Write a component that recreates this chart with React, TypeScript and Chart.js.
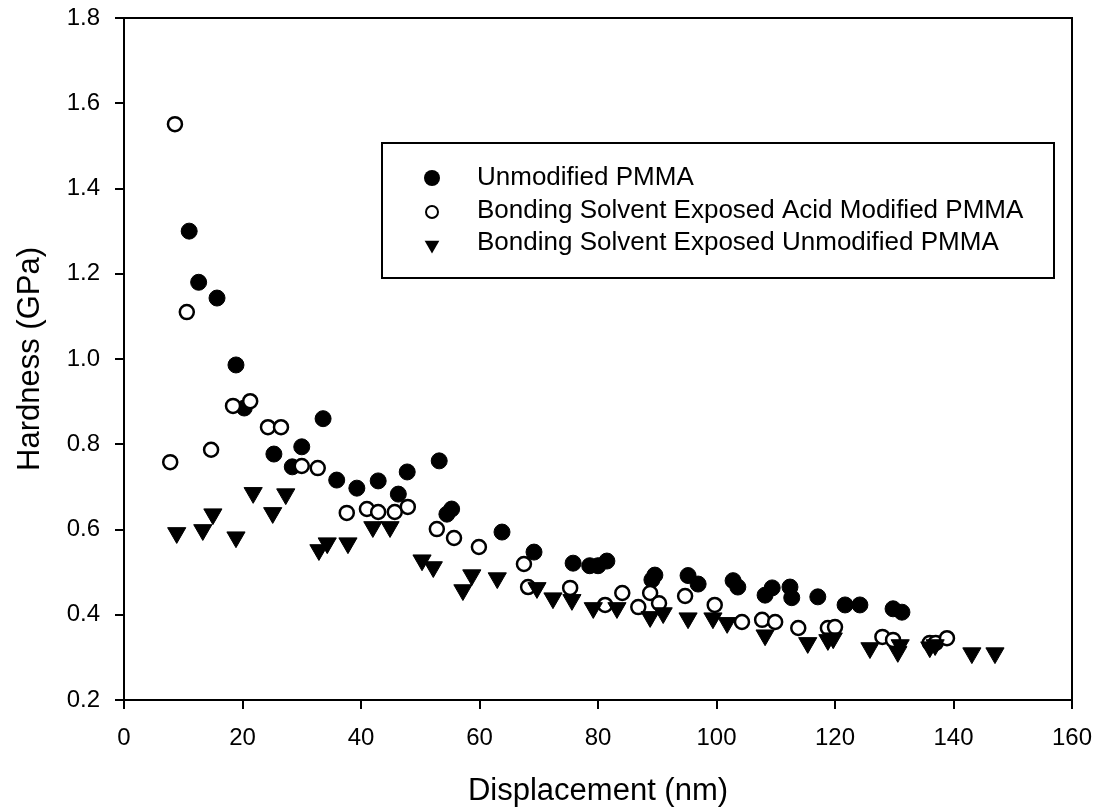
import React, { useEffect, useRef } from 'react';
import { Chart, registerables } from 'chart.js';

Chart.register(...registerables);

// Unmodified PMMA (filled circles)
const unmodX = [11.0, 12.6, 15.7, 18.9, 20.3, 25.3, 28.4, 30.0, 33.6, 35.9, 39.3, 42.9, 46.3, 47.8, 53.2, 54.5, 55.3, 63.8, 69.2, 75.8, 78.6, 80.0, 81.5, 89.1, 89.6, 95.2, 96.9, 102.8, 103.6, 108.2, 109.4, 112.4, 112.7, 117.1, 121.7, 124.2, 129.8, 131.3];
const unmodY = [1.30, 1.18, 1.143, 0.986, 0.885, 0.777, 0.747, 0.794, 0.860, 0.716, 0.697, 0.714, 0.683, 0.735, 0.761, 0.636, 0.648, 0.594, 0.547, 0.521, 0.515, 0.515, 0.526, 0.482, 0.493, 0.492, 0.472, 0.480, 0.465, 0.446, 0.463, 0.465, 0.440, 0.442, 0.423, 0.423, 0.414, 0.406];

// Bonding Solvent Exposed Acid Modified PMMA (open circles)
const acidX = [7.8, 8.6, 10.6, 14.7, 18.4, 21.3, 24.3, 26.5, 30.0, 32.7, 37.6, 41.0, 42.9, 45.7, 47.9, 52.8, 55.7, 59.9, 67.5, 68.2, 75.3, 81.2, 84.1, 86.8, 88.8, 90.3, 94.7, 99.7, 104.3, 107.7, 109.9, 113.8, 118.8, 120.0, 128.0, 129.8, 136.0, 137.0, 138.9];
const acidY = [0.758, 1.551, 1.110, 0.787, 0.890, 0.901, 0.840, 0.840, 0.749, 0.744, 0.639, 0.648, 0.641, 0.641, 0.653, 0.601, 0.580, 0.559, 0.519, 0.465, 0.463, 0.423, 0.451, 0.418, 0.451, 0.427, 0.444, 0.423, 0.383, 0.388, 0.383, 0.369, 0.369, 0.371, 0.348, 0.341, 0.334, 0.334, 0.345];

// Bonding Solvent Exposed Unmodified PMMA (down triangles)
const solvX = [8.9, 13.3, 15.0, 18.9, 21.8, 25.1, 27.3, 32.9, 34.3, 37.8, 42.0, 44.9, 50.3, 52.2, 57.2, 58.7, 63.0, 69.7, 72.4, 75.6, 79.2, 83.2, 88.8, 91.0, 95.2, 99.4, 101.8, 108.2, 115.4, 118.8, 119.7, 125.9, 130.6, 131.0, 136.0, 136.9, 143.1, 147.0];
const solvY = [0.592, 0.599, 0.636, 0.582, 0.686, 0.639, 0.683, 0.552, 0.568, 0.568, 0.606, 0.606, 0.528, 0.512, 0.458, 0.493, 0.486, 0.463, 0.439, 0.435, 0.416, 0.416, 0.395, 0.404, 0.392, 0.392, 0.381, 0.352, 0.334, 0.341, 0.345, 0.322, 0.313, 0.329, 0.324, 0.329, 0.310, 0.310];

const seriesLabels = [
  'Unmodified PMMA',
  'Bonding Solvent Exposed Acid Modified PMMA',
  'Bonding Solvent Exposed Unmodified PMMA',
];
const xTitle = 'Displacement (nm)';
const yTitle = 'Hardness (GPa)';

const FONT = '"Liberation Sans", Arial, sans-serif';

export default function App() {
  const ref = useRef<HTMLCanvasElement>(null);

  useEffect(() => {
    if (!ref.current) return;
    const pts = (xs: number[], ys: number[]) => xs.map((x, i) => ({ x, y: ys[i] }));

    const framePlugin = {
      id: 'frameLegend',
      afterDraw(chart: any) {
        const ctx = chart.ctx as CanvasRenderingContext2D;
        const { left, top, right, bottom } = chart.chartArea;
        ctx.save();
        ctx.strokeStyle = '#000';
        ctx.lineWidth = 2;
        ctx.beginPath();
        ctx.moveTo(left, top);
        ctx.lineTo(right, top);
        ctx.lineTo(right, bottom);
        ctx.stroke();

        // legend box
        const bx = 382, by = 143, bw = 672, bh = 135;
        ctx.fillStyle = '#fff';
        ctx.fillRect(bx, by, bw, bh);
        ctx.lineWidth = 2;
        ctx.strokeRect(bx, by, bw, bh);

        const sx = 432;
        const rows = [178, 211, 243];
        // filled circle
        ctx.fillStyle = '#000';
        ctx.beginPath();
        ctx.arc(sx, rows[0], 8, 0, Math.PI * 2);
        ctx.fill();
        // open circle
        ctx.beginPath();
        ctx.arc(sx, rows[1] + 1, 6, 0, Math.PI * 2);
        ctx.lineWidth = 2;
        ctx.stroke();
        // down triangle
        const r = 8.5;
        ctx.beginPath();
        ctx.moveTo(sx - r * 0.866, rows[2] + 2 - r * 0.5);
        ctx.lineTo(sx + r * 0.866, rows[2] + 2 - r * 0.5);
        ctx.lineTo(sx, rows[2] + 2 + r);
        ctx.closePath();
        ctx.fill();

        ctx.font = `26px ${FONT}`;
        ctx.textBaseline = 'middle';
        ctx.textAlign = 'left';
        seriesLabels.forEach((t, i) => ctx.fillText(t, 477, rows[i]));
        ctx.restore();
      },
    };

    const chart = new Chart(ref.current, {
      type: 'scatter',
      data: {
        datasets: [
          {
            label: seriesLabels[0],
            data: pts(unmodX, unmodY),
            pointStyle: 'circle',
            pointRadius: 8,
            backgroundColor: '#000',
            borderColor: '#000',
            borderWidth: 1,
            order: 3,
          },
          {
            label: seriesLabels[1],
            data: pts(acidX, acidY),
            pointStyle: 'circle',
            pointRadius: 7,
            backgroundColor: '#fff',
            borderColor: '#000',
            borderWidth: 2.5,
            order: 2,
          },
          {
            label: seriesLabels[2],
            data: pts(solvX, solvY),
            pointStyle: 'triangle',
            rotation: 180,
            pointRadius: 10.5,
            backgroundColor: '#000',
            borderColor: '#000',
            borderWidth: 1,
            order: 1,
          },
        ],
      },
      options: {
        responsive: false,
        animation: false,
        devicePixelRatio: 1,
        layout: { padding: { top: 18, right: 25, left: 0, bottom: 0 } },
        plugins: {
          legend: { display: false },
          tooltip: { enabled: false },
        },
        scales: {
          x: {
            type: 'linear',
            min: 0,
            max: 160,
            afterFit: (s: any) => { s.height = 110; s.paddingLeft = 0; s.paddingRight = 0; },
            ticks: {
              stepSize: 20,
              color: '#000',
              font: { family: FONT, size: 24 },
              padding: 15,
              maxRotation: 0,
            },
            grid: {
              drawOnChartArea: false,
              drawTicks: true,
              tickLength: 9,
              color: '#000',
              lineWidth: 2,
            },
            border: { display: true, color: '#000', width: 2 },
            title: {
              display: true,
              text: xTitle,
              color: '#000',
              font: { family: FONT, size: 31 },
              padding: { top: 0, bottom: 0 },
            },
          },
          y: {
            type: 'linear',
            min: 0.2,
            max: 1.8,
            afterFit: (s: any) => { s.width = 124; s.paddingTop = 0; s.paddingBottom = 0; },
            ticks: {
              stepSize: 0.2,
              color: '#000',
              font: { family: FONT, size: 24 },
              padding: 15,
              callback: (v: any) => Number(v).toFixed(1),
            },
            grid: {
              drawOnChartArea: false,
              drawTicks: true,
              tickLength: 9,
              color: '#000',
              lineWidth: 2,
            },
            border: { display: true, color: '#000', width: 2 },
            title: {
              display: true,
              text: yTitle,
              color: '#000',
              font: { family: FONT, size: 31 },
              padding: { top: 12, bottom: 0 },
            },
          },
        },
      },
      plugins: [framePlugin],
    });
    return () => chart.destroy();
  }, []);

  return (
    <div style={{ position: 'fixed', left: 0, top: 0, width: 1097, height: 810, background: '#fff' }}>
      <canvas ref={ref} width={1097} height={810} style={{ display: 'block' }} />
    </div>
  );
}
